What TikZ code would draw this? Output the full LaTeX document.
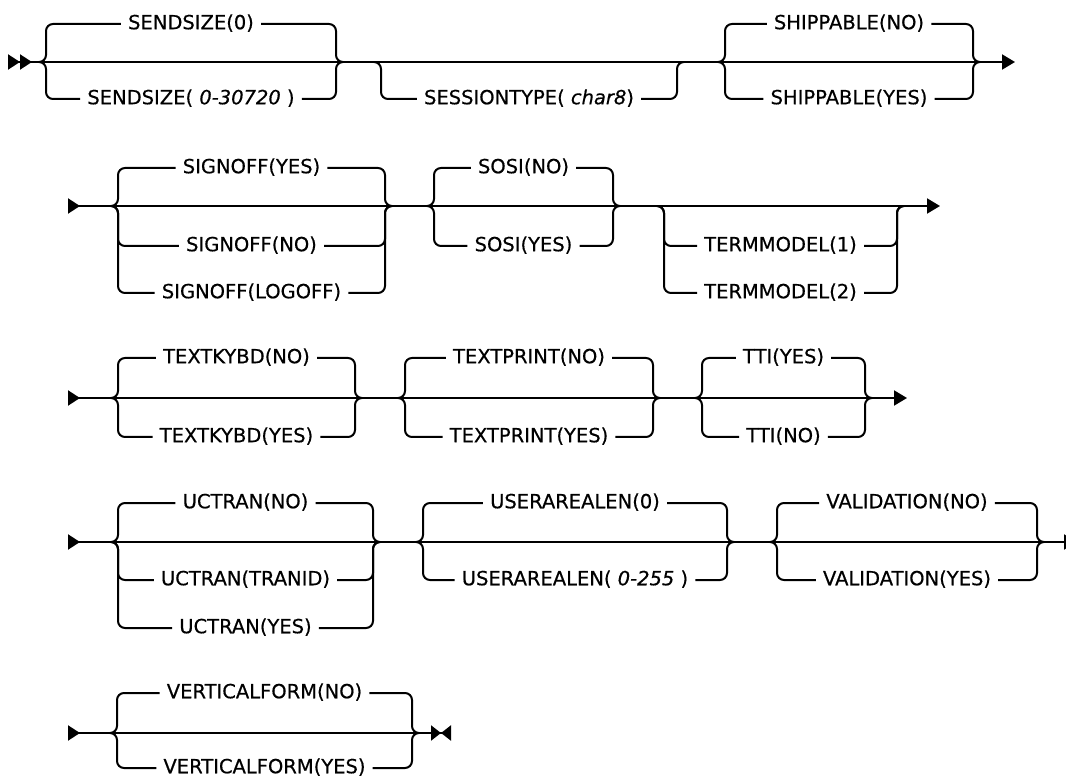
\documentclass[tikz,border=0pt]{standalone}
\usepackage{fontspec}
\setmainfont{DejaVu Sans}[FakeBold=0.5]
\usetikzlibrary{arrows.meta}

\begin{document}
\begin{tikzpicture}[x=1pt, y=-1pt,
    rail/.style={line width=2pt, rounded corners=7pt},
    choice/.style={inner xsep=7pt, inner ysep=0pt, text height=14pt,
                   text depth=3.5pt, font=\fontsize{19.5}{23}\selectfont},
    tipin/.tip={Triangle[reversed, length=12pt, width=15pt]},
    tipout/.tip={Triangle[length=13pt, width=15pt]}
]
    \clip (0,0) rectangle (1066,783);

    % row starts and ends
    \coordinate (r1s) at (8,62);    \coordinate (r1e) at (1015,62);
    \coordinate (r2s) at (68,206);  \coordinate (r2e) at (940,206);
    \coordinate (r3s) at (68,398);  \coordinate (r3e) at (907,398);
    \coordinate (r4s) at (68,542);  \coordinate (r4e) at (1077,542);
    \coordinate (r5s) at (68,733);  \coordinate (r5e) at (451,733);

    % where each group leaves and rejoins its row
    \coordinate (send-in) at (39,62);   \coordinate (send-out) at (343,62);
    \coordinate (sess-in) at (374,62);  \coordinate (sess-out) at (684,62);
    \coordinate (ship-in) at (718,62);  \coordinate (ship-out) at (980,62);
    \coordinate (sign-in) at (111,206); \coordinate (sign-out) at (392,206);
    \coordinate (sosi-in) at (427,206); \coordinate (sosi-out) at (620,206);
    \coordinate (term-in) at (657,206); \coordinate (term-out) at (904,206);
    \coordinate (kybd-in) at (111,398); \coordinate (kybd-out) at (362,398);
    \coordinate (tprt-in) at (398,398); \coordinate (tprt-out) at (660,398);
    \coordinate (tti-in) at (695,398);  \coordinate (tti-out) at (872,398);
    \coordinate (uct-in) at (111,542);  \coordinate (uct-out) at (380,542);
    \coordinate (ual-in) at (416,542);  \coordinate (ual-out) at (734,542);
    \coordinate (val-in) at (770,542);  \coordinate (val-out) at (1044,542);
    \coordinate (vfm-in) at (110,733);  \coordinate (vfm-out) at (419,733);

    % main lines
    \draw[rail, {tipin[]tipin[]}-{tipout[]}] (r1s) -- (r1e);
    \draw[rail, {tipin[]}-{tipout[]}] (r2s) -- (r2e);
    \draw[rail, {tipin[]}-{tipout[]}] (r3s) -- (r3e);
    \draw[rail, {tipin[]}-{tipout[]}] (r4s) -- (r4e);
    \draw[rail, {tipin[]}-{Triangle[length=10pt, width=15pt]Triangle[reversed, length=10pt, width=15pt]}] (r5s) -- (r5e);

    % choices
    \foreach \nm/\grp/\cx/\cy/\lbl in {
        ssz0/send/191/24/SENDSIZE(0),
        sszn/send/191/99/{SENDSIZE( \textit{0-30720} )},
        sest/sess/529/99/{SESSIONTYPE( \textit{char8})},
        shipno/ship/849/24/SHIPPABLE(NO),
        shipyes/ship/849/99/SHIPPABLE(YES),
        signyes/sign/251.5/168/SIGNOFF(YES),
        signno/sign/251.5/246/SIGNOFF(NO),
        signlog/sign/251.5/293/SIGNOFF(LOGOFF),
        sosino/sosi/523.5/168/SOSI(NO),
        sosiyes/sosi/523.5/246/SOSI(YES),
        term1/term/780.5/246/TERMMODEL(1),
        term2/term/780.5/293/TERMMODEL(2),
        kybdno/kybd/236.5/358/TEXTKYBD(NO),
        kybdyes/kybd/236.5/437/TEXTKYBD(YES),
        tprtno/tprt/529/358/TEXTPRINT(NO),
        tprtyes/tprt/529/437/TEXTPRINT(YES),
        ttiyes/tti/783.5/358/TTI(YES),
        ttino/tti/783.5/437/TTI(NO),
        uctno/uct/245.5/503/UCTRAN(NO),
        ucttran/uct/245.5/580/UCTRAN(TRANID),
        uctyes/uct/245.5/628/UCTRAN(YES),
        ual0/ual/575/503/USERAREALEN(0),
        ualn/ual/575/580/{USERAREALEN( \textit{0-255} )},
        valno/val/907/503/VALIDATION(NO),
        valyes/val/907/580/VALIDATION(YES),
        vfmno/vfm/264.5/693/VERTICALFORM(NO),
        vfmyes/vfm/264.5/768/VERTICALFORM(YES)}{
        \node[choice] (\nm) at (\cx,\cy) {\lbl};
        \draw[rail] (\grp-in) -- ++(7,0) |- (\nm.west);
        \draw[rail] (\nm.east) -| ([xshift=-7pt]\grp-out) -- (\grp-out);
    }
\end{tikzpicture}
\end{document}
